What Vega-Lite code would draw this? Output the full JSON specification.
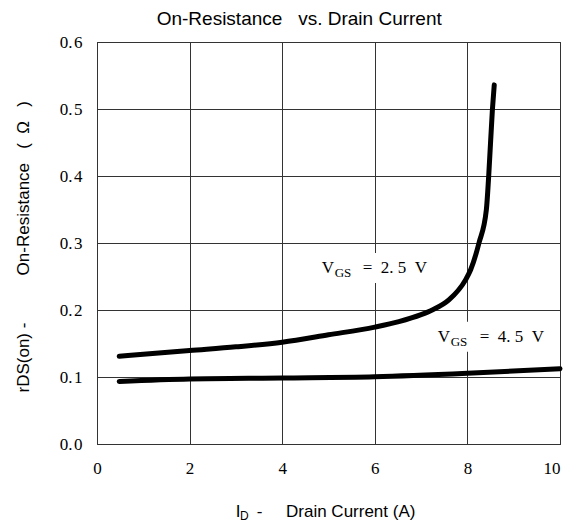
{
  "$schema": "https://vega.github.io/schema/vega-lite/v6.json",
  "width": 463,
  "height": 402,
  "autosize": {"type": "none"},
  "padding": {"left": 97, "top": 42, "right": 3, "bottom": 82},
  "background": "white",
  "config": {
    "view": {"stroke": "black", "strokeWidth": 1},
    "axis": {
      "domain": false,
      "ticks": false,
      "grid": true,
      "gridColor": "#333333",
      "gridOpacity": 1,
      "gridWidth": 1,
      "labelFont": "Liberation Serif",
      "labelFontSize": 17,
      "labelColor": "black",
      "titleFont": "Liberation Sans",
      "titleFontSize": 17,
      "titleFontWeight": "normal",
      "titleColor": "black"
    }
  },
  "datasets": {
    "curves": [
      {"series": "VGS=2.5V", "x": 0.48, "y": 0.131},
      {"series": "VGS=2.5V", "x": 1.0, "y": 0.134},
      {"series": "VGS=2.5V", "x": 2.0, "y": 0.1396},
      {"series": "VGS=2.5V", "x": 3.0, "y": 0.145},
      {"series": "VGS=2.5V", "x": 4.0, "y": 0.152},
      {"series": "VGS=2.5V", "x": 5.0, "y": 0.163},
      {"series": "VGS=2.5V", "x": 6.0, "y": 0.1745},
      {"series": "VGS=2.5V", "x": 6.52, "y": 0.1826},
      {"series": "VGS=2.5V", "x": 7.0, "y": 0.193},
      {"series": "VGS=2.5V", "x": 7.24, "y": 0.2},
      {"series": "VGS=2.5V", "x": 7.6, "y": 0.215},
      {"series": "VGS=2.5V", "x": 7.96, "y": 0.245},
      {"series": "VGS=2.5V", "x": 8.07, "y": 0.26},
      {"series": "VGS=2.5V", "x": 8.25, "y": 0.3},
      {"series": "VGS=2.5V", "x": 8.41, "y": 0.35},
      {"series": "VGS=2.5V", "x": 8.46, "y": 0.4},
      {"series": "VGS=2.5V", "x": 8.54, "y": 0.499},
      {"series": "VGS=2.5V", "x": 8.58, "y": 0.536},
      {"series": "VGS=4.5V", "x": 0.48, "y": 0.0934},
      {"series": "VGS=4.5V", "x": 2.0, "y": 0.097},
      {"series": "VGS=4.5V", "x": 4.0, "y": 0.0985},
      {"series": "VGS=4.5V", "x": 6.0, "y": 0.1003},
      {"series": "VGS=4.5V", "x": 8.0, "y": 0.1055},
      {"series": "VGS=4.5V", "x": 10.0, "y": 0.1124}
    ],
    "boxes": [
      {"x": 4.6, "x2": 7.2, "y": 0.2404, "y2": 0.2851},
      {"x": 7.08, "x2": 9.84, "y": 0.1377, "y2": 0.1823}
    ],
    "notes": [
      {"kind": "title", "x": 1.289, "y": 0.6249, "t": "On-Resistance\u00a0\u00a0\u00a0vs. Drain Current"},
      {"kind": "main", "x": 4.853, "y": 0.2553, "t": "V"},
      {"kind": "sub", "x": 5.134, "y": 0.2493, "t": "GS"},
      {"kind": "main", "x": 5.739, "y": 0.2553, "t": "=\u00a0\u00a02.\u00a05\u00a0\u00a0V"},
      {"kind": "main", "x": 7.358, "y": 0.1525, "t": "V"},
      {"kind": "sub", "x": 7.639, "y": 0.1465, "t": "GS"},
      {"kind": "main", "x": 8.265, "y": 0.1525, "t": "=\u00a0\u00a04.\u00a05\u00a0\u00a0V"},
      {"kind": "xmain", "x": 2.996, "y": -0.1088, "t": "I"},
      {"kind": "xsub", "x": 3.09, "y": -0.1128, "t": "D"},
      {"kind": "xmain", "x": 3.45, "y": -0.1088, "t": "-\u00a0\u00a0\u00a0\u00a0\u00a0Drain Current (A)"}
    ]
  },
  "encoding": {
    "x": {
      "field": "x",
      "type": "quantitative",
      "scale": {"domain": [0, 10], "nice": false, "zero": false},
      "axis": {
        "title": null,
        "values": [0, 2, 4, 6, 8, 10],
        "labelPadding": 16,
        "labelFlush": false,
        "labelBound": false,
        "labelAlign": {"condition": {"test": "datum.value == 10", "value": "right"}, "value": "center"},
        "labelExpr": "datum.value == 10 ? '10\u00a0' : datum.label"
      }
    },
    "y": {
      "field": "y",
      "type": "quantitative",
      "scale": {"domain": [0, 0.6], "nice": false, "zero": false},
      "axis": {
        "title": "rDS(on)\u00a0-\u00a0\u00a0\u00a0\u00a0\u00a0\u00a0\u00a0\u00a0\u00a0\u00a0On-Resistance\u00a0\u00a0\u00a0(\u00a0\u00a0Ω\u00a0\u00a0\u00a0)",
        "titleX": -69,
        "titleY": 350,
        "titleAngle": -90,
        "titleAlign": "left",
        "titleBaseline": "alphabetic",
        "values": [0, 0.1, 0.2, 0.3, 0.4, 0.5, 0.6],
        "labelPadding": 15,
        "labelExpr": "replace(format(datum.value, '.1f'), '.', '.\u200a')"
      }
    }
  },
  "layer": [
    {
      "data": {"name": "boxes"},
      "mark": {"type": "rect", "fill": "white", "stroke": null},
      "encoding": {
        "x2": {"field": "x2"},
        "y2": {"field": "y2"}
      }
    },
    {
      "data": {"name": "curves"},
      "mark": {"type": "line", "color": "black", "strokeWidth": 5, "strokeCap": "round", "strokeJoin": "round", "interpolate": "monotone"},
      "encoding": {
        "detail": {"field": "series", "type": "nominal"}
      }
    },
    {
      "data": {"name": "notes"},
      "transform": [{"filter": "datum.kind == 'title'"}],
      "mark": {"type": "text", "align": "left", "baseline": "alphabetic", "font": "Liberation Sans", "fontSize": 19, "color": "black"},
      "encoding": {"text": {"field": "t"}}
    },
    {
      "data": {"name": "notes"},
      "transform": [{"filter": "datum.kind == 'main'"}],
      "mark": {"type": "text", "align": "left", "baseline": "alphabetic", "font": "Liberation Serif", "fontSize": 17, "color": "black"},
      "encoding": {"text": {"field": "t"}}
    },
    {
      "data": {"name": "notes"},
      "transform": [{"filter": "datum.kind == 'sub'"}],
      "mark": {"type": "text", "align": "left", "baseline": "alphabetic", "font": "Liberation Serif", "fontSize": 13, "color": "black"},
      "encoding": {"text": {"field": "t"}}
    },
    {
      "data": {"name": "notes"},
      "transform": [{"filter": "datum.kind == 'xmain'"}],
      "mark": {"type": "text", "align": "left", "baseline": "alphabetic", "font": "Liberation Sans", "fontSize": 17, "color": "black"},
      "encoding": {"text": {"field": "t"}}
    },
    {
      "data": {"name": "notes"},
      "transform": [{"filter": "datum.kind == 'xsub'"}],
      "mark": {"type": "text", "align": "left", "baseline": "alphabetic", "font": "Liberation Sans", "fontSize": 12, "color": "black"},
      "encoding": {"text": {"field": "t"}}
    }
  ]
}
